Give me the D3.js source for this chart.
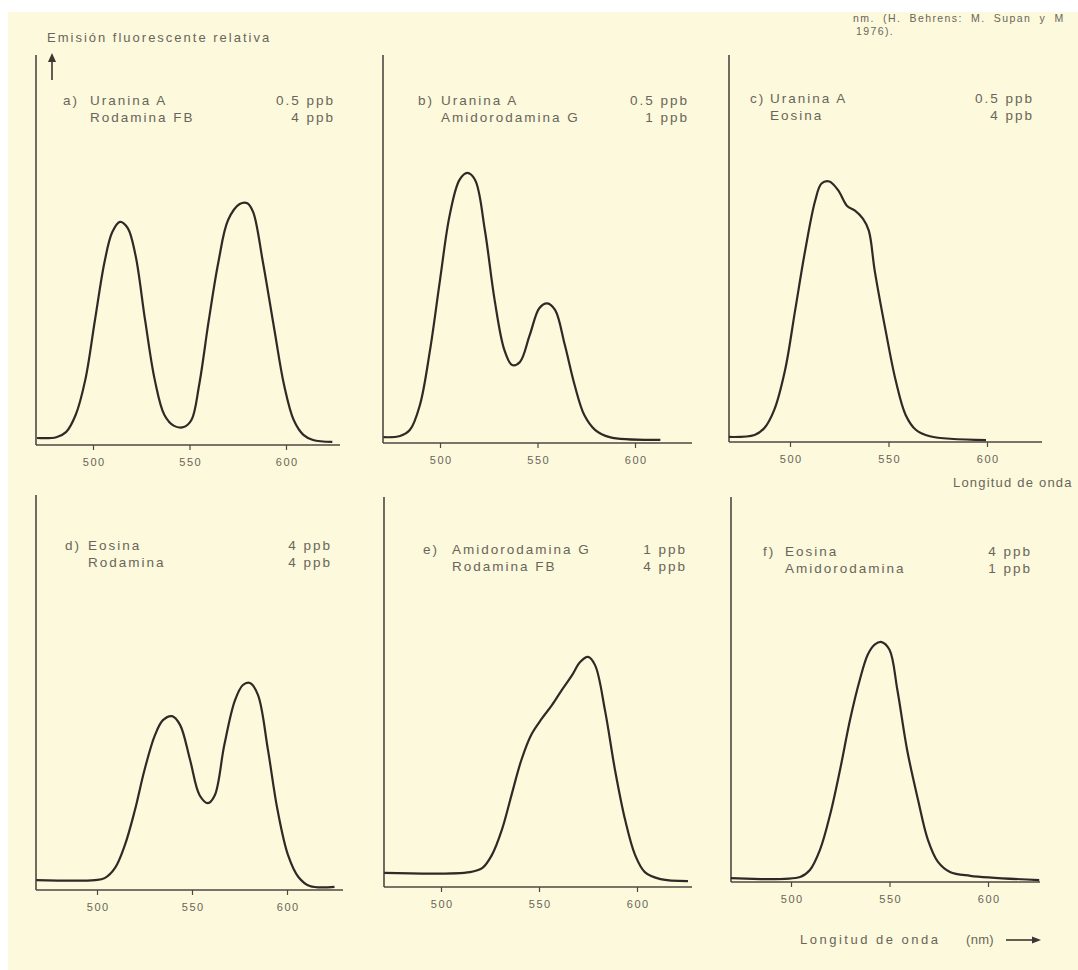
<!DOCTYPE html>
<html>
<head>
<meta charset="utf-8">
<script src="https://d3js.org/d3.v7.min.js"></script>
<style>
  body { margin: 0; background: #ffffff; }
  svg { display: block; }
  text { font-family: "Liberation Sans", Arial, sans-serif; fill: #6a655a; }
</style>
</head>
<body>
<svg width="1078" height="970"></svg>
<script>
// tick labels on every wavelength axis
var tickWavelengths = [500, 550, 600];

// panel letters, dye names and concentrations
var panelIds = ["a", "b", "c", "d", "e", "f"];
var dyeFirst = ["Uranina A", "Uranina A", "Uranina A", "Eosina", "Amidorodamina G", "Eosina"];
var dyeSecond = ["Rodamina FB", "Amidorodamina G", "Eosina", "Rodamina", "Rodamina FB", "Amidorodamina"];
var concFirst = ["0.5 ppb", "0.5 ppb", "0.5 ppb", "4 ppb", "1 ppb", "4 ppb"];
var concSecond = ["4 ppb", "1 ppb", "4 ppb", "4 ppb", "4 ppb", "1 ppb"];

// relative emission: [wavelength nm, intensity 0-100]
var curveA = [[471,1.8],[481,2],[486,3.3],[491,7.7],[496,16.7],[501,32],[506,47],[510,54.6],[514,57.2],[518,55.6],
  [522,48.7],[527,32],[532,16.7],[537,7.7],[542,4.9],[547,4.6],[551,6.4],[555,15.4],[560,32],[565,47],[570,57.7],
  [576,61.8],[580,62],[583,59.7],[588,47],[594,29.5],[599,15.4],[604,6.4],[609,2.6],[614,1.3],[624,0.8]];
var curveB = [[471,1.5],[479.5,1.8],[484.6,3.4],[489.7,9.8],[494.9,24],[500,42],[505,58.8],[510,67.8],[514,69.6],
  [518,67.8],[523,54.9],[528,36.9],[533,24],[537,20.1],[541,20.9],[546,27.8],[551,34.8],[555,36],[559,34.3],
  [564,25.3],[569,15],[574,7.2],[579.5,3.4],[587,1.5],[613,0.8]];
var curveC = [[469,1.3],[482,1.8],[487,3.6],[492,8.3],[497.5,18.6],[502.6,34],[507.7,49.5],[512.8,62.4],[516,66.8],
  [520,67.3],[524.5,65],[529,61],[533,59.8],[537,57.7],[540,54.6],[543,44.3],[548.5,28.9],[553.6,16],[558.7,7],
  [564,3.1],[571,1.5],[599.5,0.5]];
var curveD = [[468,2.5],[499,2.5],[504,3],[509.5,5.6],[514.7,11.4],[520,20.3],[525,30.4],[530.5,39.2],[534.7,43],
  [539.5,44],[543.7,41.8],[549,32.9],[554,24],[558.4,22],[562,24],[567,36.7],[572.6,48],[576.8,51.9],[580.5,52.4],
  [584.7,49.4],[590,35.4],[595,20.3],[600.5,8.9],[606,3.3],[612,1],[625,0.8]];
var curveE = [[471,3.6],[514.8,3.8],[521,4.8],[526,8.2],[531,14.5],[536,23.5],[541,32.4],[546,38.8],[551.5,43],
  [556.6,46.4],[561.7,50.3],[566.8,54],[571,57.4],[575,58.7],[578.6,56.6],[583.7,45],[588.8,29.8],[594,17],
  [599,8.2],[604,3.8],[612,2],[626,1.5]];
var curveF = [[469.5,1],[504.6,1.3],[509.6,3.1],[514.7,8.3],[519.8,17.3],[524.9,29],[530,42],[535,52.4],[539,58.8],
  [542.6,61.4],[546,62],[550,60],[554,49.6],[559,34],[564.5,21.2],[569.5,10.9],[574.6,5.2],[580.7,2.6],[591,1.6],
  [626,0.5]];
var curves = [curveA, curveB, curveC, curveD, curveE, curveF];

var svg = d3.select("svg");

// paper
svg.append("rect")
    .attr("x", 8).attr("y", 12)
    .attr("width", 1070).attr("height", 958)
    .attr("fill", "#fcf9dc");

// where each panel sits on the page (pixels)
var layout = [
  {ax: 36,  ay: 445, top: 55,  h: 390, p500: 93,  p600: 286, xEnd: 340,  idX: 63,  nameX: 90,  rightX: 335,  ty: 105},
  {ax: 383, ay: 443, top: 55,  h: 388, p500: 440, p600: 635, xEnd: 692,  idX: 418, nameX: 441, rightX: 689,  ty: 105},
  {ax: 729, ay: 442, top: 55,  h: 387, p500: 790, p600: 987, xEnd: 1042, idX: 750, nameX: 770, rightX: 1034, ty: 103},
  {ax: 36,  ay: 890, top: 495, h: 395, p500: 97,  p600: 287, xEnd: 343,  idX: 65,  nameX: 88,  rightX: 332,  ty: 550},
  {ax: 384, ay: 887, top: 497, h: 392, p500: 441, p600: 637, xEnd: 692,  idX: 423, nameX: 452, rightX: 687,  ty: 554},
  {ax: 731, ay: 882, top: 497, h: 387, p500: 791, p600: 988, xEnd: 1040, idX: 763, nameX: 785, rightX: 1032, ty: 556}
];

var axisColor = "#4d4842",
    lineColor = "#2e2a26";

function label(g, x, y, txt, anchor) {
  return g.append("text")
      .attr("x", x).attr("y", y)
      .attr("text-anchor", anchor || "start")
      .style("font-size", "13.5px")
      .style("letter-spacing", "2px")
      .text(txt);
}

layout.forEach(function(L, i) {
  var x = d3.scaleLinear().domain([500, 600]).range([L.p500, L.p600]);
  var y = d3.scaleLinear().domain([0, 100]).range([L.ay, L.ay - L.h]);

  var g = svg.append("g").attr("class", "panel-" + panelIds[i]);

  // y axis (just a line, no ticks)
  g.append("line")
      .attr("x1", L.ax).attr("x2", L.ax)
      .attr("y1", L.top).attr("y2", L.ay)
      .attr("stroke", axisColor).attr("stroke-width", 1.6);

  // x axis line
  g.append("line")
      .attr("x1", L.ax).attr("x2", L.xEnd)
      .attr("y1", L.ay).attr("y2", L.ay)
      .attr("stroke", axisColor).attr("stroke-width", 1.6);

  var xAxis = g.append("g")
      .attr("transform", "translate(0," + L.ay + ")")
      .call(d3.axisBottom(x).tickValues(tickWavelengths).tickSize(5).tickPadding(8).tickSizeOuter(0));
  xAxis.select(".domain").remove();
  xAxis.selectAll("line").attr("stroke", axisColor).attr("stroke-width", 1.2);
  xAxis.selectAll("text")
      .attr("fill", "#6a655a")
      .attr("dx", "0.75px")
      .style("font-size", "11px")
      .style("letter-spacing", "1.5px")
      .style("font-family", "'Liberation Sans', Arial, sans-serif");

  // spectrum
  var line = d3.line()
      .x(function(d) { return x(d[0]); })
      .y(function(d) { return y(d[1]); })
      .curve(d3.curveCatmullRom.alpha(0.5));

  g.append("path")
      .datum(curves[i])
      .attr("d", line)
      .attr("fill", "none")
      .attr("stroke", lineColor)
      .attr("stroke-width", 2.2)
      .attr("stroke-linejoin", "round");

  // legend text
  label(g, L.idX, L.ty, panelIds[i] + ")");
  label(g, L.nameX, L.ty, dyeFirst[i]);
  label(g, L.nameX, L.ty + 17, dyeSecond[i]);
  label(g, L.rightX, L.ty, concFirst[i], "end");
  label(g, L.rightX, L.ty + 17, concSecond[i], "end");
});

// y title and its arrow
svg.append("text")
    .attr("x", 47).attr("y", 42)
    .style("font-size", "13px")
    .style("letter-spacing", "2px")
    .text("Emisión fluorescente relativa");

svg.append("line")
    .attr("x1", 52).attr("x2", 52)
    .attr("y1", 80).attr("y2", 60)
    .attr("stroke", "#3a3631").attr("stroke-width", 1.6);
svg.append("path")
    .attr("d", "M48,62 L52,53 L56,62 Z")
    .attr("fill", "#3a3631");

// source note, running to the page edge
svg.append("text")
    .attr("x", 853).attr("y", 22)
    .style("font-size", "10.5px")
    .style("letter-spacing", "1.4px")
    .style("word-spacing", "4px")
    .text("nm. (H. Behrens: M. Supan y M");
svg.append("text")
    .attr("x", 856).attr("y", 35)
    .style("font-size", "10.5px")
    .style("letter-spacing", "1.4px")
    .text("1976).");

// x titles
svg.append("text")
    .attr("x", 953).attr("y", 487)
    .style("font-size", "13px")
    .style("letter-spacing", "1.2px")
    .text("Longitud de onda");

svg.append("text")
    .attr("x", 800).attr("y", 944)
    .style("font-size", "13px")
    .style("letter-spacing", "2.5px")
    .text("Longitud de onda");
svg.append("text")
    .attr("x", 966).attr("y", 944)
    .style("font-size", "13px")
    .style("letter-spacing", "0.3px")
    .text("(nm)");
svg.append("line")
    .attr("x1", 1006).attr("x2", 1034)
    .attr("y1", 940).attr("y2", 940)
    .attr("stroke", "#3a3631").attr("stroke-width", 1.6);
svg.append("path")
    .attr("d", "M1032,936.5 L1041,940 L1032,943.5 Z")
    .attr("fill", "#3a3631");
</script>
</body>
</html>
